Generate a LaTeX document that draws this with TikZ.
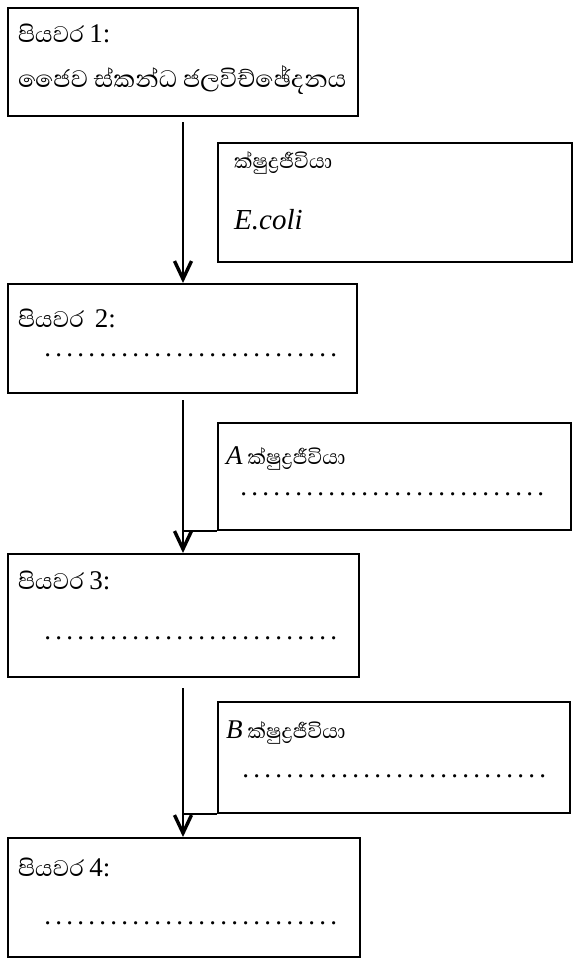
\documentclass[tikz,border=0pt]{standalone}
\usepackage{fontspec}
\setmainfont{Liberation Serif}
\newfontfamily\sinhala[Script=Sinhala]{Abhaya Libre}
\usetikzlibrary{arrows.meta}
\newcommand{\lat}[1]{{\rmfamily\fontsize{27}{30}\selectfont #1}}
\newcommand{\blankdots}[1]{\makebox[#1]{\leaders\hbox to 11pt{\hss.\hss}\hfill}}
\tikzset{
  stepbox/.style={draw, line width=1.9pt, anchor=north west, inner sep=0pt},
  steptext/.style={anchor=west, inner sep=0pt, font=\fontsize{29}{33}\selectfont\sinhala},
  microbetext/.style={steptext, font=\fontsize{26}{30}\selectfont\sinhala},
  flow/.style={line width=1.4pt, -{Straight Barb[length=18pt,width=17pt,line width=3.4pt]}}
}
\begin{document}
\begin{tikzpicture}[x=1pt, y=-1pt]
  \useasboundingbox (0,0) rectangle (573,959);
  % the four steps
  \node[stepbox, minimum width=350pt, minimum height=108pt] (step1) at (7,7) {};
  \node[stepbox, minimum width=349pt, minimum height=109pt] (step2) at (7,283) {};
  \node[stepbox, minimum width=351pt, minimum height=123pt] (step3) at (7,553) {};
  \node[stepbox, minimum width=352pt, minimum height=119pt] (step4) at (7,837) {};
  % the organisms
  \node[stepbox, minimum width=354pt, minimum height=119pt] (microbe) at (217,142) {};
  \node[stepbox, minimum width=353pt, minimum height=107pt] (microbeA) at (217,422) {};
  \node[stepbox, minimum width=352pt, minimum height=111pt] (microbeB) at (217,701) {};
  % texts
  \node[steptext] (t1) at (18,33) {පියවර \lat{1:}};
  \node[steptext, font=\fontsize{30.5}{34}\selectfont\sinhala] (t1b) at (18,80) {ජෛව ස්කන්ධ ජලවිච්ඡේදනය};
  \node[microbetext] (tm) at (234,163) {ක්ෂුද්^^^^200dරජීවියා};
  \node[steptext] (tmb) at (234,220) {\lat{\fontsize{29}{32}\selectfont\itshape E.coli}};
  \node[steptext] (t2) at (18,318) {පියවර \ \lat{2:}};
  \node[steptext] (t2b) at (42,355) {\lat{\blankdots{300pt}}};
  \node[microbetext] (tA) at (226,458) {\lat{\itshape A} ක්ෂුද්^^^^200dරජීවියා};
  \node[steptext] (tAb) at (238,494) {\lat{\blankdots{318pt}}};
  \node[steptext] (t3) at (18,580) {පියවර \lat{3:}};
  \node[steptext] (t3b) at (42,638) {\lat{\blankdots{300pt}}};
  \node[microbetext] (tB) at (226,733) {\lat{\itshape B} ක්ෂුද්^^^^200dරජීවියා};
  \node[steptext] (tBb) at (240,776) {\lat{\blankdots{318pt}}};
  \node[steptext] (t4) at (18,867) {පියවර \lat{4:}};
  \node[steptext] (t4b) at (42,923) {\lat{\blankdots{300pt}}};
  % arrows
  \coordinate (c1) at (183,0);
  \coordinate (s1) at (183,122);
  \coordinate (s2) at (183,400);
  \coordinate (s3) at (183,688);
  \draw[flow] (s1) -- (c1 |- step2.north);
  \draw[flow] (s2) -- (c1 |- step3.north);
  \draw[flow] (s3) -- (c1 |- step4.north);
  \draw[line width=1.9pt] (microbeA.south west) -- (c1 |- microbeA.south west);
  \draw[line width=1.9pt] (microbeB.south west) -- (c1 |- microbeB.south west);
\end{tikzpicture}
\end{document}
